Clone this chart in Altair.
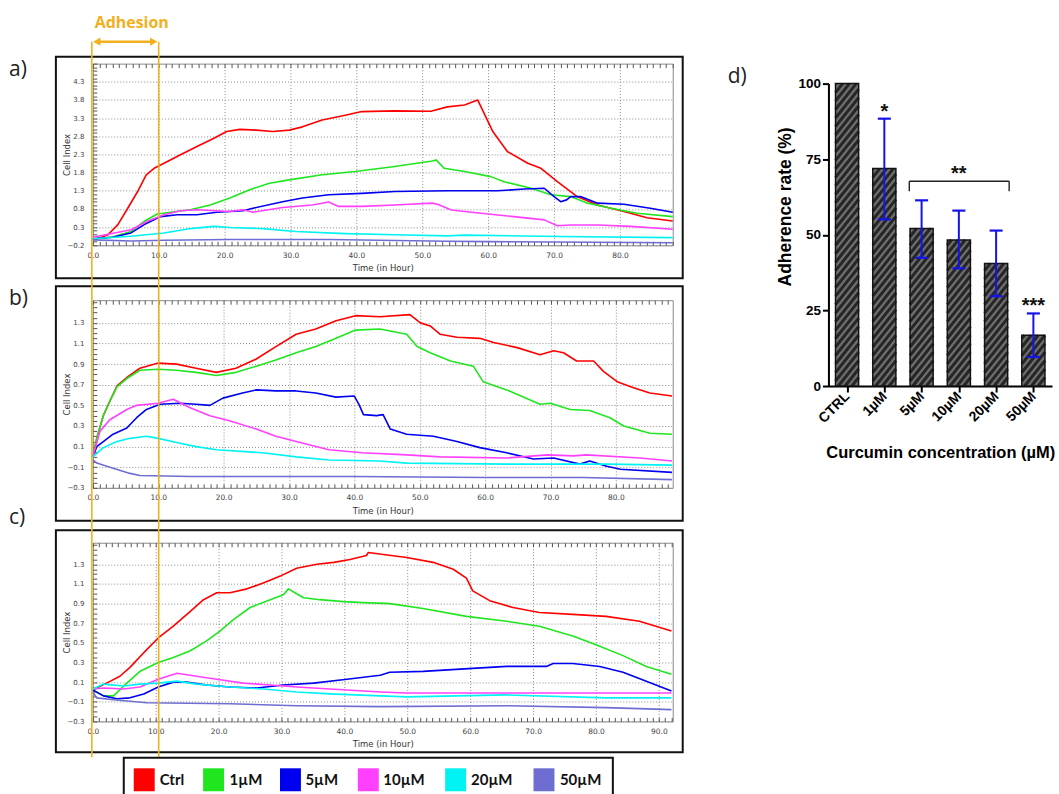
import json
import altair as alt
import pandas as pd

# ---------------- shared series info ----------------
SERIES = ["Ctrl", "1µM", "5µM", "10µM", "20µM", "50µM"]
COLORS = ["#ff0000", "#1fe61f", "#0000f0", "#ff40ff", "#00f2f2", "#6e6ed2"]
WIDTHS = [1.6, 1.6, 3.6, 1.9, 1.9, 1.6]
ORANGE = "#f2b01e"

# ---------------- panel a (time h, cell index) ----------------
A_CTRL = [(0, -0.03), (1, 0.0), (2.3, 0.09), (3.8, 0.37), (5.3, 0.82), (6.8, 1.28), (8.1, 1.74), (9.3, 1.92),
          (10.8, 2.06), (13.3, 2.29), (15.8, 2.52), (18.3, 2.74), (20.3, 2.93), (22.3, 2.99), (24.8, 2.97),
          (27.3, 2.93), (29.8, 2.97), (31.8, 3.06), (34.8, 3.25), (38.3, 3.38), (40.8, 3.48), (45.8, 3.50),
          (51.3, 3.49), (53.8, 3.61), (56.4, 3.66), (58.4, 3.80), (60.7, 2.93), (62.9, 2.38), (66.0, 2.06),
          (68.0, 1.92), (70.5, 1.55), (73.5, 1.14), (76.6, 0.91), (80.6, 0.73), (84.1, 0.56), (88.0, 0.47)]
A_1UM = [(0, -0.03), (3, 0.03), (5.8, 0.18), (7.8, 0.46), (9.8, 0.66), (11.8, 0.71), (14.8, 0.78), (17.8, 0.91),
         (20.8, 1.10), (23.8, 1.33), (26.8, 1.51), (29.8, 1.60), (34.8, 1.74), (39.8, 1.83), (45.8, 1.97),
         (51.5, 2.12), (52.1, 2.15), (53.3, 1.92), (56.4, 1.83), (60.4, 1.69), (62.4, 1.55), (66.5, 1.37),
         (69.5, 1.19), (72.5, 1.14), (75.1, 0.96), (78.6, 0.82), (82.6, 0.68), (88.0, 0.59)]
A_5UM = [(0, -0.02), (3, 0.02), (5.8, 0.14), (7.8, 0.37), (10.3, 0.59), (12.8, 0.64), (15.8, 0.64), (18.8, 0.71),
         (22.8, 0.75), (24.3, 0.82), (28.8, 1.00), (31.8, 1.10), (35.8, 1.19), (40.8, 1.23), (45.8, 1.28),
         (53.8, 1.30), (61.4, 1.30), (65.5, 1.35), (68.5, 1.37), (70.0, 1.14), (71.0, 1.00), (71.9, 1.05),
         (72.5, 1.14), (74.0, 1.14), (76.6, 0.96), (80.6, 0.93), (84.6, 0.82), (88.0, 0.71)]
A_10UM = [(0, 0.02), (3.3, 0.14), (5.8, 0.23), (8.3, 0.46), (10.8, 0.64), (13.3, 0.75), (15.8, 0.78), (20.8, 0.73),
          (22.8, 0.78), (24.3, 0.71), (28.8, 0.84), (33.3, 0.91), (35.8, 0.99), (37.3, 0.87), (40.8, 0.87),
          (45.8, 0.91), (51.5, 0.96), (52.3, 0.93), (54.4, 0.77), (58.9, 0.68), (63.9, 0.59), (68.5, 0.50),
          (70.5, 0.34), (72.5, 0.36), (76.6, 0.36), (81.6, 0.32), (88.0, 0.24)]
A_20UM = [(0, -0.02), (5.8, 0.05), (10.8, 0.14), (14.8, 0.26), (18.3, 0.32), (20.8, 0.29), (25.8, 0.26),
          (30.8, 0.18), (38.3, 0.12), (45.8, 0.09), (53.8, 0.06), (56.4, 0.08), (71.0, 0.04), (88.0, 0.01)]
A_50UM = [(0, -0.05), (5.8, -0.08), (10.8, -0.06), (20.8, -0.04), (35.8, -0.04), (53.8, -0.09), (60, -0.10),
          (88.0, -0.13)]

# ---------------- panel b ----------------
B_CTRL = [(0, 0.0), (0.6, 0.18), (1.6, 0.40), (2.6, 0.54), (3.7, 0.69), (5.2, 0.77), (7.2, 0.86), (10.0, 0.91),
          (12.8, 0.90), (15.8, 0.86), (18.9, 0.82), (21.9, 0.86), (25.0, 0.95), (28.0, 1.07), (31.1, 1.19),
          (34.1, 1.24), (37.2, 1.32), (40.2, 1.37), (43.9, 1.36), (48.5, 1.38), (50.1, 1.30), (51.6, 1.27),
          (53.1, 1.19), (55.7, 1.16), (59.2, 1.15), (61.3, 1.11), (64.9, 1.06), (68.4, 0.99), (70.5, 1.03),
          (72.0, 1.01), (74.0, 0.93), (76.6, 0.93), (78.1, 0.83), (80.2, 0.73), (82.7, 0.67), (85.2, 0.62),
          (88.6, 0.59)]
B_1UM = [(0, 0.0), (0.6, 0.18), (1.6, 0.40), (2.6, 0.54), (3.7, 0.68), (5.2, 0.76), (7.2, 0.84), (10.0, 0.85),
         (12.8, 0.84), (15.8, 0.82), (18.9, 0.79), (21.9, 0.82), (25.0, 0.88), (28.0, 0.94), (31.1, 1.01),
         (34.1, 1.07), (37.2, 1.15), (40.2, 1.23), (43.9, 1.24), (48.0, 1.19), (49.6, 1.07), (51.6, 1.01),
         (54.7, 0.93), (58.2, 0.88), (59.7, 0.73), (63.3, 0.65), (68.4, 0.51), (70.0, 0.52), (73.0, 0.46),
         (76.0, 0.45), (79.1, 0.38), (81.2, 0.30), (85.2, 0.23), (88.6, 0.22)]
B_5UM = [(0, 0.0), (0.6, 0.10), (3.1, 0.22), (5.2, 0.28), (6.7, 0.38), (8.2, 0.46), (10.3, 0.51), (13.3, 0.52),
         (15.8, 0.51), (17.9, 0.50), (19.9, 0.57), (22.9, 0.62), (25.0, 0.65), (28.0, 0.64), (31.1, 0.64),
         (34.1, 0.62), (37.2, 0.58), (40.0, 0.59), (40.7, 0.51), (41.4, 0.41), (43.4, 0.40), (44.4, 0.41),
         (45.5, 0.27), (48.0, 0.22), (52.1, 0.20), (55.7, 0.15), (59.2, 0.09), (63.3, 0.04), (67.4, -0.02),
         (70.5, -0.01), (74.5, -0.07), (76.0, -0.04), (78.6, -0.09), (80.7, -0.12), (88.6, -0.15)]
B_10UM = [(0, 0.0), (1.1, 0.25), (2.6, 0.36), (5.2, 0.46), (6.7, 0.50), (10.0, 0.52), (12.3, 0.56), (14.8, 0.48),
          (17.9, 0.40), (20.9, 0.35), (25.0, 0.27), (28.0, 0.20), (31.1, 0.15), (36.1, 0.07), (41.2, 0.04),
          (48.0, 0.02), (53.1, 0.0), (63.3, -0.01), (69.5, 0.02), (73.5, 0.01), (75.5, 0.02), (83.7, -0.01),
          (88.6, -0.04)]
B_20UM = [(0, 0.0), (1.6, 0.09), (3.7, 0.15), (5.7, 0.18), (8.2, 0.20), (10.0, 0.18), (12.8, 0.14), (15.8, 0.10),
          (18.9, 0.07), (26.0, 0.04), (31.1, 0.0), (36.1, -0.03), (43.8, -0.04), (48.0, -0.06), (63.3, -0.07),
          (78.6, -0.07), (88.6, -0.08)]
B_50UM = [(0, -0.03), (0.6, -0.06), (3.1, -0.11), (5.7, -0.16), (7.2, -0.18), (15, -0.19), (40, -0.19),
          (60, -0.20), (75, -0.20), (88.6, -0.22)]

# ---------------- panel c ----------------
C_CTRL = [(0, 0.02), (2.8, 0.11), (4.3, 0.16), (5.9, 0.25), (8.1, 0.40), (10.4, 0.55), (12.8, 0.67), (15.5, 0.82),
          (17.6, 0.94), (19.7, 1.01), (21.8, 1.01), (24.5, 1.05), (27.1, 1.11), (29.8, 1.18), (32.4, 1.26),
          (35.6, 1.30), (38.3, 1.32), (40.9, 1.35), (43.5, 1.39), (43.8, 1.42), (46.2, 1.40), (49.9, 1.37),
          (54.1, 1.32), (57.3, 1.25), (59.4, 1.16), (60.4, 1.03), (63.1, 0.93), (66.8, 0.86), (71.0, 0.81),
          (76.3, 0.79), (81.6, 0.77), (86.9, 0.72), (92.0, 0.62)]
C_1UM = [(0, 0.02), (1.7, -0.04), (3.3, -0.04), (5.4, 0.09), (7.5, 0.21), (10.4, 0.30), (12.8, 0.35), (15.5, 0.42),
         (18.1, 0.52), (20.2, 0.62), (22.4, 0.74), (25.0, 0.86), (28.2, 0.94), (30.3, 0.99), (31.1, 1.05),
         (32.4, 1.00), (33.5, 0.96), (36.1, 0.94), (39.8, 0.92), (43.0, 0.91), (47.2, 0.90), (52.5, 0.85),
         (59.4, 0.77), (65.8, 0.72), (71.0, 0.67), (76.3, 0.57), (80.0, 0.48), (84.3, 0.37), (88.0, 0.26),
         (92.0, 0.18)]
C_5UM = [(0, 0.02), (1.7, -0.04), (3.8, -0.07), (5.9, -0.06), (8.1, -0.02), (10.4, 0.05), (12.8, 0.10),
         (14.9, 0.10), (18.1, 0.07), (21.8, 0.05), (26.1, 0.04), (30.3, 0.07), (35.1, 0.09), (40.4, 0.13),
         (45.7, 0.17), (47.2, 0.20), (52.5, 0.21), (60.4, 0.24), (65.8, 0.26), (72.1, 0.26), (73.2, 0.29),
         (76.3, 0.29), (80.6, 0.26), (84.3, 0.20), (88.0, 0.11), (92.0, 0.01)]
C_10UM = [(0, 0.03), (1.7, 0.04), (4.9, 0.03), (7.5, 0.05), (10.4, 0.13), (13.4, 0.19), (16.5, 0.16), (19.7, 0.13),
          (23.9, 0.09), (28.2, 0.07), (32.4, 0.05), (37.7, 0.03), (45.7, 0.0), (49.9, -0.01), (92.0, -0.01)]
C_20UM = [(0, 0.03), (1.7, 0.08), (4.9, 0.06), (7.5, 0.08), (10.4, 0.09), (13.4, 0.11), (16.5, 0.08), (21.8, 0.05),
          (27.1, 0.03), (32.4, 0.0), (37.7, -0.02), (45.7, -0.04), (49.9, -0.05), (65.8, -0.03), (81.6, -0.06),
          (92.0, -0.06)]
C_50UM = [(0, 0.0), (0.6, -0.06), (3.3, -0.08), (8.6, -0.11), (21.8, -0.12), (32.4, -0.14), (45.7, -0.15),
          (65.8, -0.14), (81.6, -0.16), (92.0, -0.18)]

# ---------------- panel d (adherence bars) ----------------
D_CATS = ["CTRL", "1µM", "5µM", "10µM", "20µM", "50µM"]
D_MEAN = [100, 71.9, 52.1, 48.3, 40.5, 16.8]
D_LOW = [55.1, 42.4, 38.9, 29.7, 9.6]      # for 1µM..50µM
D_HIGH = [88.4, 61.4, 58.0, 51.4, 24.0]
SIG_IDX = [1, 3, 5]
SIG_TXT = ["*", "**", "***"]
BRACKET_X = [1.67, 4.35]
BRACKET_Y = [64.4, 67.7]

# legend layout (pixel offsets inside panel c, layout only)
LEG_SWATCH_X = [51.5, 121, 198, 276, 363.5, 452]
LEG_TEXT_X = [67, 137, 213, 291, 379, 468]

ONE = pd.DataFrame({"k": [0]})
FNT = "DejaVu Sans"
PW = 581


def pts_df(groups):
    rows = []
    for name, pts in zip(SERIES, groups):
        for t, v in pts:
            rows.append({"t": t, "v": v, "s": name})
    return pd.DataFrame(rows)


def vrule(x, y0, y1):
    return alt.Chart(ONE).mark_rule(color=ORANGE, strokeWidth=1.6).encode(
        x=alt.value(x), y=alt.value(y0), y2=alt.value(y1))


def label(txt, x, y, size=21, **kw):
    return alt.Chart(ONE).mark_text(text=txt, align="left", baseline="middle", fontSize=size,
                                    font="Open Sans", color="#222", **kw).encode(
        x=alt.value(x), y=alt.value(y))


def slot(x0, x1, y0, y1):
    return alt.Chart(ONE).mark_rect(opacity=0).encode(
        x=alt.value(x0), x2=alt.value(x1), y=alt.value(y0), y2=alt.value(y1))


def box(y0, y1):
    return alt.Chart(ONE).mark_rect(fillOpacity=0, stroke="#111", strokeWidth=2).encode(
        x=alt.value(-37), x2=alt.value(591), y=alt.value(y0), y2=alt.value(y1))


def line_panel(groups, xmax, ydom, yticks, ystep, xticks, h, box_y, orange_y, extras):
    df = pts_df(groups)
    xs = alt.Scale(domain=[0, xmax], nice=False, zero=False)
    ys = alt.Scale(domain=ydom, nice=False, zero=False)
    minor_x = list(range(0, int(xmax) + 1))
    n = int(round((ydom[1] - ydom[0]) / ystep))
    minor_y = [round(ydom[0] + i * ystep, 3) for i in range(n + 1)]
    xaxis = alt.Axis(values=xticks, format=".1f", title="Time (in Hour)", grid=True, gridDash=[1, 2],
                     gridColor="#8c8c8c", ticks=False, domain=False, labelFont=FNT, labelFontSize=7.5,
                     labelColor="#444", labelPadding=6, labelFlush=False, titleFont=FNT, titleFontSize=8.5,
                     titleFontWeight="normal", titleColor="#333", titlePadding=5)
    yaxis = alt.Axis(values=yticks, format=".1f", title="Cell Index", grid=True, gridDash=[1, 2],
                     gridColor="#8c8c8c", ticks=False, domain=False, labelFont=FNT, labelFontSize=7,
                     labelColor="#444", labelPadding=9, labelFlush=False, titleFont=FNT, titleFontSize=8.5,
                     titleFontWeight="normal", titleColor="#333", titleX=-21)
    lines = alt.Chart(df).mark_line(strokeJoin="round").encode(
        x=alt.X("t:Q", scale=xs, axis=xaxis),
        y=alt.Y("v:Q", scale=ys, axis=yaxis),
        color=alt.Color("s:N", scale=alt.Scale(domain=SERIES, range=COLORS), legend=None),
        strokeWidth=alt.StrokeWidth("s:N", scale=alt.Scale(domain=SERIES, range=WIDTHS), legend=None),
    )
    tick_style = dict(labels=False, title=None, domain=False, grid=False, tickSize=4, offset=-4,
                      tickColor="#555", tickWidth=1)
    minor1 = alt.Chart(df).mark_point(opacity=0).encode(
        x=alt.X("t:Q", scale=xs, axis=alt.Axis(orient="top", values=minor_x, **tick_style)),
        y=alt.Y("v:Q", scale=ys, axis=alt.Axis(orient="left", values=minor_y, **tick_style)),
    )
    minor2 = alt.Chart(df).mark_point(opacity=0).encode(
        x=alt.X("t:Q", scale=xs, axis=alt.Axis(orient="bottom", values=minor_x, **tick_style)),
        y=alt.Y("v:Q", scale=ys, axis=None),
    )
    layers = [box(box_y[0], box_y[1]), lines, minor1, minor2,
              vrule(-1, orange_y[0], orange_y[1]), vrule(66, orange_y[0], orange_y[1])] + extras
    return alt.layer(*layers).resolve_axis(x="independent", y="independent").properties(
        width=PW, height=h, view=alt.ViewBackground(stroke="#8a8a8a", strokeWidth=1))


# annotation for panel a: "Adhesion" double arrow
adh_text = alt.Chart(ONE).mark_text(text="Adhesion", fontSize=16, fontWeight="bold", font="Open Sans",
                                    color=ORANGE).encode(x=alt.value(39), y=alt.value(-41))
adh_rule = alt.Chart(ONE).mark_rule(color=ORANGE, strokeWidth=2.5).encode(
    x=alt.value(3), x2=alt.value(62), y=alt.value(-22))
adh_l = alt.Chart(ONE).mark_point(shape="triangle-left", filled=True, color=ORANGE, size=70, opacity=1).encode(
    x=alt.value(4), y=alt.value(-22))
adh_r = alt.Chart(ONE).mark_point(shape="triangle-right", filled=True, color=ORANGE, size=70, opacity=1).encode(
    x=alt.value(61), y=alt.value(-22))

YT_A = [round(-0.2 + 0.5 * i, 1) for i in range(10)]
YT_BC = [round(-0.3 + 0.2 * i, 1) for i in range(9)]

pa = line_panel([A_CTRL, A_1UM, A_5UM, A_10UM, A_20UM, A_50UM], 88.0, [-0.2, 4.8], YT_A, 0.1,
                list(range(0, 81, 10)), 182, (-7, 215), (-22, 218),
                [slot(-92, 598, -62, 0), adh_text, adh_rule, adh_l, adh_r, label("a)", -84, 6)])
pb = line_panel([B_CTRL, B_1UM, B_5UM, B_10UM, B_20UM, B_50UM], 88.7, [-0.3, 1.52], YT_BC, 0.05,
                list(range(0, 81, 10)), 188, (-14, 221), (-19, 229),
                [label("b)", -84, -1), label("c)", -84, 218)])

# legend for the three curves panels, drawn below panel c
leg_layers = [alt.Chart(ONE).mark_rect(fill="white", stroke="#111", strokeWidth=2).encode(
    x=alt.value(31), x2=alt.value(521), y=alt.value(215.5), y2=alt.value(256))]
for name, col, sx, tx in zip(SERIES, COLORS, LEG_SWATCH_X, LEG_TEXT_X):
    leg_layers.append(alt.Chart(ONE).mark_rect(fill=col).encode(
        x=alt.value(sx - 10.5), x2=alt.value(sx + 10.5), y=alt.value(226), y2=alt.value(249)))
    leg_layers.append(alt.Chart(ONE).mark_text(text=name, align="left", baseline="middle", font="Lato",
                                               fontWeight="bold", fontSize=15, color="#111").encode(
        x=alt.value(tx), y=alt.value(237.5)))

pc = line_panel([C_CTRL, C_1UM, C_5UM, C_10UM, C_20UM, C_50UM], 92.2, [-0.3, 1.52], YT_BC, 0.05,
                list(range(0, 91, 10)), 179, (-12.5, 210), (-14, 215), leg_layers)

left = alt.vconcat(pa, pb, pc, spacing=55, bounds="flush").resolve_scale(
    color="independent", strokeWidth="independent")

# ---------------- panel d ----------------
DW, DH = 224, 323
Y0, Y100 = 323, 20
PX_X = DW / 6.0
PX_Y = (Y0 - Y100) / 100.0
HALF = 0.31
SLOPE = 1.25
PERIOD = 8.5

hatch = []
for i, m in enumerate(D_MEAN):
    W = 2 * HALF * PX_X
    H = m * PX_Y
    c = -SLOPE * W
    while c < H:
        x0 = max(0.0, -c / SLOPE)
        x1 = min(W, (H - c) / SLOPE)
        if x1 > x0:
            hatch.append({"x": i - HALF + x0 / PX_X, "x2": i - HALF + x1 / PX_X,
                          "y": (SLOPE * x0 + c) / PX_Y, "y2": (SLOPE * x1 + c) / PX_Y})
        c += PERIOD
hatch_df = pd.DataFrame(hatch)

dd = pd.DataFrame({"i": list(range(6)), "cat": D_CATS, "m": D_MEAN})
err = pd.DataFrame({"i": list(range(1, 6)), "lo": D_LOW, "hi": D_HIGH})
sig_y = [D_HIGH[0], BRACKET_Y[1], D_HIGH[4]]
sig = pd.DataFrame({"i": SIG_IDX, "txt": SIG_TXT, "y": sig_y})
br = pd.DataFrame({"x": [BRACKET_X[0]], "x2": [BRACKET_X[1]], "y": [BRACKET_Y[1]]})
legs = pd.DataFrame({"x": BRACKET_X, "y": [BRACKET_Y[0]] * 2, "y2": [BRACKET_Y[1]] * 2})

xsd = alt.Scale(domain=[-0.5, 5.5], nice=False, zero=False)
ysd = alt.Scale(domain=[0, 100], range=[Y0, Y100], nice=False, zero=False)
label_expr = "%s[datum.value]" % json.dumps(D_CATS, ensure_ascii=False)
BF = "Liberation Sans"
xaxd = alt.Axis(values=list(range(6)), labelExpr=label_expr, labelAngle=315, labelAlign="right",
                labelBaseline="middle", labelFont=BF, labelFontSize=14, labelFontWeight="bold",
                labelColor="black", labelPadding=2, tickSize=6, tickWidth=2, tickColor="black",
                domainColor="black", domainWidth=2, grid=False, title="Curcumin concentration (µM)",
                titleFont=BF, titleFontSize=16.5, titleFontWeight="bold", titleColor="black", titlePadding=19)
yaxd = alt.Axis(values=[0, 25, 50, 75, 100], labelFont=BF, labelFontSize=13.5, labelFontWeight="bold",
                labelColor="black", labelPadding=2, tickSize=6, tickWidth=2, tickColor="black",
                domainColor="black", domainWidth=2, grid=False, title="Adherence rate (%)",
                titleFont=BF, titleFontSize=17.5, titleFontWeight="bold", titleColor="black", titlePadding=3,
                titleY=143)

bars = alt.Chart(dd).transform_calculate(xl="datum.i - 0.31", xr="datum.i + 0.31").mark_rect(
    fill="#6e6e6e").encode(
    x=alt.X("xl:Q", scale=xsd, axis=xaxd), x2=alt.X2("xr"),
    y=alt.Y("m:Q", scale=ysd, axis=yaxd), y2=alt.datum(0))
hatch_l = alt.Chart(hatch_df).mark_rule(color="#262626", strokeWidth=3).encode(
    x="x:Q", x2="x2:Q", y="y:Q", y2="y2:Q")
outline = alt.Chart(dd).transform_calculate(xl="datum.i - 0.31", xr="datum.i + 0.31").mark_rect(
    fillOpacity=0, stroke="#111", strokeWidth=1.5).encode(
    x="xl:Q", x2=alt.X2("xr"), y="m:Q", y2=alt.datum(0))
BLUE = "#1414e6"
ebar = alt.Chart(err).mark_rule(color=BLUE, strokeWidth=2).encode(x="i:Q", y="lo:Q", y2="hi:Q")
cap_hi = alt.Chart(err).transform_calculate(cl="datum.i - 0.175", cr="datum.i + 0.175").mark_rule(
    color=BLUE, strokeWidth=2.2).encode(x="cl:Q", x2=alt.X2("cr"), y="hi:Q")
cap_lo = alt.Chart(err).transform_calculate(cl="datum.i - 0.175", cr="datum.i + 0.175").mark_rule(
    color=BLUE, strokeWidth=2.2).encode(x="cl:Q", x2=alt.X2("cr"), y="lo:Q")
br_h = alt.Chart(br).mark_rule(color="#222", strokeWidth=1.4).encode(x="x:Q", x2="x2:Q", y="y:Q")
br_v = alt.Chart(legs).mark_rule(color="#222", strokeWidth=1.4).encode(x="x:Q", y="y:Q", y2="y2:Q")
stars = alt.Chart(sig).mark_text(fontSize=20, fontWeight="bold", font=BF, baseline="alphabetic",
                                 color="#111", dy=-1).encode(x="i:Q", y="y:Q", text="txt:N")
dslot = slot(-138, 231, -62, 732)
dlab = label("d)", -101, 13)

dchart = alt.layer(dslot, bars, hatch_l, outline, ebar, cap_hi, cap_lo, br_h, br_v, stars, dlab).properties(
    width=DW, height=DH)

chart = alt.hconcat(left, dchart, spacing=0).properties(padding=0, background="white").configure_view(
    strokeWidth=0)

chart.save("out.html", embed_options={"renderer": "svg", "actions": False})
